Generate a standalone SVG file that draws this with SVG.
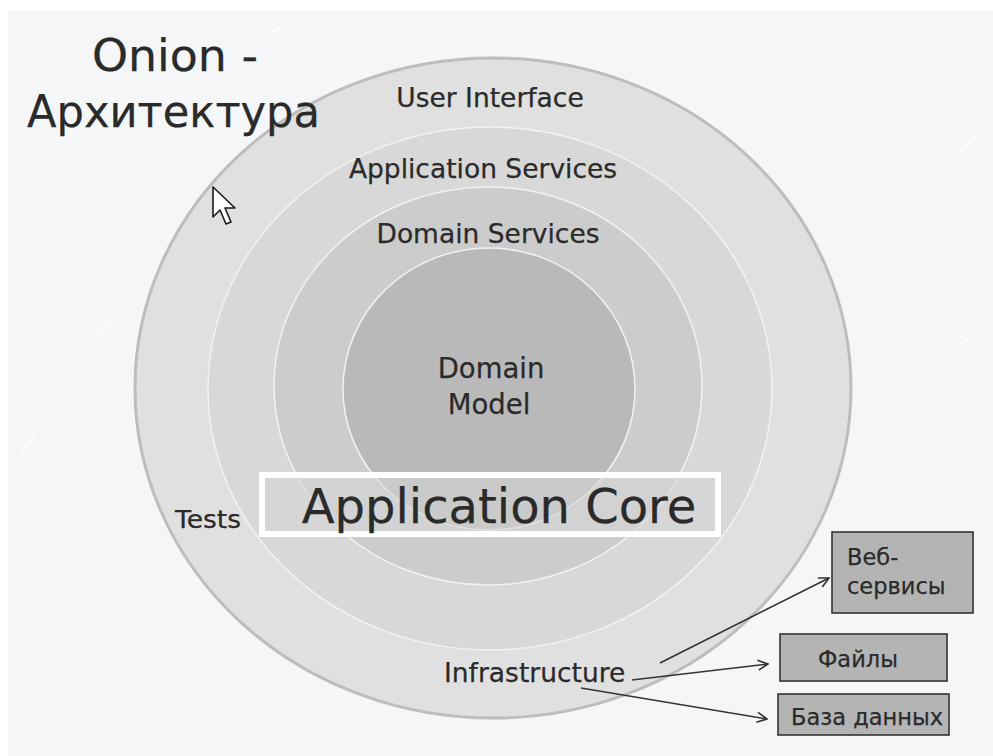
<svg xmlns="http://www.w3.org/2000/svg" width="993" height="756" viewBox="0 0 993 756">
  <style>
    .t { font-family: "DejaVu Sans", Verdana, sans-serif; fill: #2a2a2a; stroke: #2a2a2a; stroke-width: 0.25; }
    .ring { stroke: #f2f2f2; stroke-width: 1.5; }
    .ext rect { fill: #b4b4b4; stroke: #333333; stroke-width: 1.6; }
    .conn { fill: none; stroke: #333333; stroke-width: 1.6; }
    .streak { stroke: #ffffff; stroke-width: 2; stroke-linecap: round; opacity: 0.7; }
  </style>
  <defs>
    <marker id="arrow" viewBox="0 0 12 12" refX="11" refY="6" markerWidth="12" markerHeight="12" markerUnits="userSpaceOnUse" orient="auto">
      <path d="M1,1 L11,6 L1,11" fill="none" stroke="#333333" stroke-width="1.6"/>
    </marker>
  </defs>

  <!-- page -->
  <rect width="993" height="756" fill="#ffffff"/>
  <rect x="8" y="11" width="985" height="745" fill="#f5f6f8"/>

  <!-- faint background streaks -->
  <g id="streaks">
    <line class="streak" x1="862" y1="70" x2="890" y2="44"/>
    <line class="streak" x1="958" y1="152" x2="978" y2="136"/>
    <line class="streak" x1="902" y1="175" x2="910" y2="163"/>
    <line class="streak" x1="960" y1="345" x2="978" y2="330"/>
    <line class="streak" x1="80" y1="348" x2="110" y2="322"/>
    <line class="streak" x1="20" y1="455" x2="36" y2="432"/>
    <line class="streak" x1="272" y1="32" x2="284" y2="26"/>
  </g>

  <!-- onion layers -->
  <g id="layer-infrastructure">
    <ellipse cx="493" cy="388" rx="358" ry="330" fill="#e0e0e0" stroke="#bdbdbd" stroke-width="3"/>
  </g>
  <g id="layer-application-services">
    <ellipse class="ring" cx="490" cy="388.5" rx="282" ry="261.5" fill="#d8d8d8"/>
  </g>
  <g id="layer-domain-services">
    <ellipse class="ring" cx="488" cy="386" rx="214" ry="199" fill="#cccccc"/>
  </g>
  <g id="layer-domain-model">
    <ellipse class="ring" cx="489" cy="389" rx="146" ry="141" fill="#b9b9b9"/>
  </g>

  <!-- title -->
  <g id="title">
    <text class="t" x="92" y="71" font-size="45" textLength="166" lengthAdjust="spacingAndGlyphs">Onion -</text>
    <text class="t" x="27" y="127" font-size="45" textLength="293" lengthAdjust="spacingAndGlyphs">Архитектура</text>
  </g>

  <!-- layer labels -->
  <g id="label-user-interface"><text class="t" x="490" y="107" font-size="26.5" text-anchor="middle">User Interface</text></g>
  <g id="label-application-services"><text class="t" x="483" y="178" font-size="26.5" text-anchor="middle">Application Services</text></g>
  <g id="label-domain-services"><text class="t" x="488" y="243" font-size="26.5" text-anchor="middle">Domain Services</text></g>
  <g id="label-domain-model">
    <text class="t" x="491" y="378" font-size="27.5" text-anchor="middle">Domain</text>
    <text class="t" x="489" y="414" font-size="27.5" text-anchor="middle">Model</text>
  </g>
  <g id="label-tests"><text class="t" x="175" y="528" font-size="25" textLength="66" lengthAdjust="spacingAndGlyphs">Tests</text></g>
  <g id="label-infrastructure"><text class="t" x="444" y="682" font-size="26.5">Infrastructure</text></g>

  <!-- application core frame -->
  <g id="application-core">
    <rect x="262" y="475" width="456" height="59" fill="#d6d6d6" fill-opacity="0.6" stroke="#ffffff" stroke-width="6"/>
    <text class="t" x="499" y="523" font-size="48" text-anchor="middle">Application Core</text>
  </g>

  <!-- external systems -->
  <g id="web-services" class="ext">
    <rect x="832" y="532" width="141" height="81"/>
    <text class="t" x="847" y="565" font-size="22.5">Веб-</text>
    <text class="t" x="847" y="594" font-size="22.5">сервисы</text>
  </g>
  <g id="files" class="ext">
    <rect x="780" y="634" width="167" height="47"/>
    <text class="t" x="818" y="667" font-size="22.5">Файлы</text>
  </g>
  <g id="database" class="ext">
    <rect x="778" y="694" width="171" height="41"/>
    <text class="t" x="791" y="725" font-size="22.5">База данных</text>
  </g>

  <!-- connectors -->
  <g id="connectors">
    <line class="conn" x1="660" y1="663" x2="829" y2="578" marker-end="url(#arrow)"/>
    <line class="conn" x1="632" y1="680" x2="768" y2="664" marker-end="url(#arrow)"/>
    <line class="conn" x1="581" y1="688" x2="767" y2="719" marker-end="url(#arrow)"/>
  </g>

  <!-- mouse pointer -->
  <g id="pointer">
    <path d="M213,187 L213,217 L220,210 L226,224 L231,222 L225,208 L235,208 Z" fill="#ffffff" stroke="#1a1a1a" stroke-width="1.6" stroke-linejoin="round"/>
  </g>
</svg>
